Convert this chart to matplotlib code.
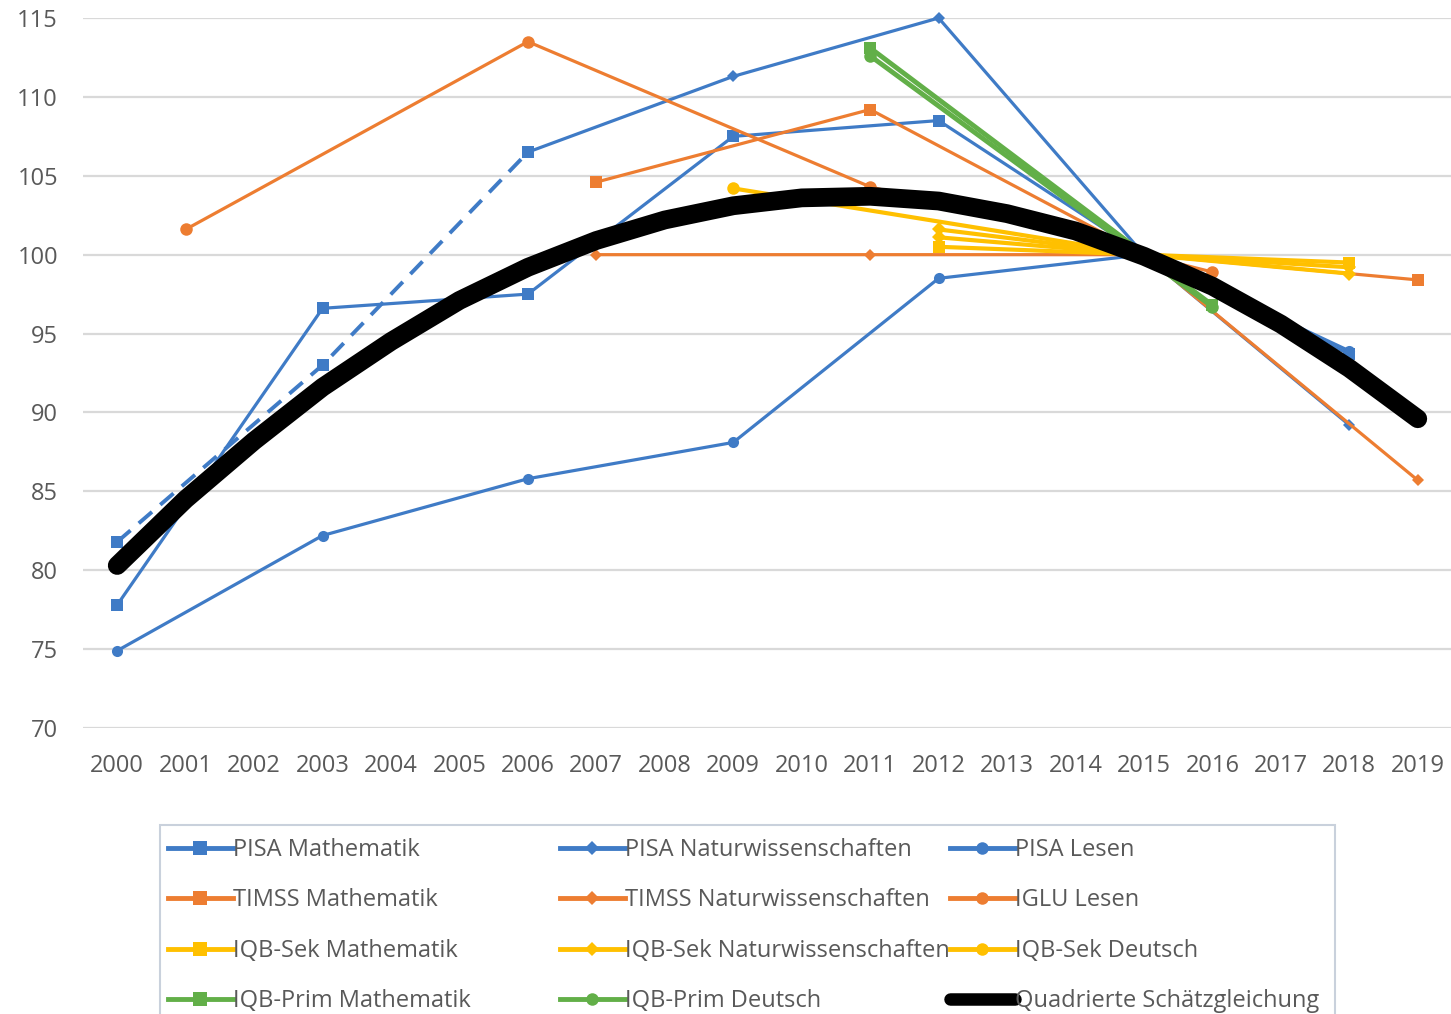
import matplotlib
matplotlib.use("Agg")
import matplotlib.pyplot as plt
from matplotlib.lines import Line2D
from matplotlib.patches import Rectangle

# ---------------- data ----------------
pisa_years = [2000, 2003, 2006, 2009, 2012, 2015, 2018]
pisa_math = [77.8, 96.6, 97.5, 107.5, 108.5, 100.0, 93.7]
pisa_lesen = [74.9, 82.2, 85.8, 88.1, 98.5, 100.0, 93.9]
pisa_nat_years = [2006, 2009, 2012, 2015, 2018]
pisa_nat = [106.5, 111.3, 115.0, 100.0, 89.2]
pisa_nat_early_years = [2000, 2003, 2006]
pisa_nat_early = [81.8, 93.0, 106.5]

timss_years = [2007, 2011, 2015, 2019]
timss_math = [104.6, 109.2, 100.0, 98.4]
timss_nat = [100.0, 100.0, 100.0, 85.7]

iglu_years = [2001, 2006, 2011, 2016]
iglu_lesen = [101.6, 113.5, 104.3, 98.9]

iqb_sek_years = [2012, 2015, 2018]
iqb_sek_math = [100.5, 100.0, 99.5]
iqb_sek_nat = [101.6, 100.0, 98.8]
iqb_sek_nat_b = [101.1, 100.0, 99.2]
iqb_sek_de_years = [2009, 2015]
iqb_sek_deutsch = [104.2, 100.0]

iqb_prim_years = [2011, 2016]
iqb_prim_math = [113.1, 96.8]
iqb_prim_deutsch = [112.6, 96.7]

fit_years = list(range(2000, 2020))
fit_values = [80.3, 84.5, 88.2, 91.6, 94.5, 97.1, 99.2, 100.9, 102.2, 103.1,
              103.6, 103.7, 103.4, 102.6, 101.5, 99.9, 98.0, 95.6, 92.8, 89.6]

x_labels = [str(y) for y in fit_years]
y_ticks = [70, 75, 80, 85, 90, 95, 100, 105, 110, 115]

# ---------------- style ----------------
BLUE = "#3F7BC6"
ORANGE = "#ED7D31"
YELLOW = "#FFC000"
GREEN = "#62AF48"
TXT = "#595959"
FONT = "Open Sans"
plt.rcParams["font.family"] = [FONT, "DejaVu Sans"]
FS = 17

W, H = 1451, 1014
fig = plt.figure(figsize=(W / 100, H / 100), dpi=100)
ax = fig.add_axes([83 / W, 1 - 728 / H, (1452 - 83) / W, (728 - 18) / H])

ax.set_xlim(1999.5, 2019.5)
ax.set_ylim(70, 115)
ax.set_yticks(y_ticks)
ax.set_xticks(fit_years)
ax.set_xticklabels(x_labels)
for s in ax.spines.values():
    s.set_visible(False)
ax.grid(axis="y", color="#D9D9D9", linewidth=1.6)
ax.set_axisbelow(True)
ax.tick_params(axis="both", length=0, labelsize=FS, labelcolor=TXT)
ax.tick_params(axis="y", pad=18)
ax.tick_params(axis="x", pad=19)

lw = 2.3

def series(x, y, color, marker, ms, label=None, ls="-", lw=lw, z=3):
    return ax.plot(x, y, color=color, marker=marker, markersize=ms, linestyle=ls,
                   linewidth=lw, label=label, clip_on=False, zorder=z,
                   markeredgewidth=0)[0]

series(pisa_years, pisa_math, BLUE, "s", 9, "PISA Mathematik")
series(pisa_nat_years, pisa_nat, BLUE, "D", 6, "PISA Naturwissenschaften")
series(pisa_nat_early_years, pisa_nat_early, BLUE, "s", 8, None, ls=(0, (4.5, 2.8)), lw=2.8)
series(pisa_years, pisa_lesen, BLUE, "o", 8, "PISA Lesen")
series(timss_years, timss_math, ORANGE, "s", 9, "TIMSS Mathematik")
series(timss_years, timss_nat, ORANGE, "D", 6, "TIMSS Naturwissenschaften")
series(iglu_years, iglu_lesen, ORANGE, "o", 9, "IGLU Lesen")
series(iqb_sek_years, iqb_sek_math, YELLOW, "s", 9, "IQB-Sek Mathematik", lw=3)
series(iqb_sek_years, iqb_sek_nat, YELLOW, "D", 7, "IQB-Sek Naturwissenschaften", lw=3)
series(iqb_sek_years, iqb_sek_nat_b, YELLOW, "D", 7, None, lw=3)
series(iqb_sek_de_years, iqb_sek_deutsch, YELLOW, "o", 9, "IQB-Sek Deutsch", lw=3)
series(iqb_prim_years, iqb_prim_math, GREEN, "s", 9, "IQB-Prim Mathematik", lw=3.5)
series(iqb_prim_years, iqb_prim_deutsch, GREEN, "o", 9, "IQB-Prim Deutsch", lw=3.5)
ax.plot(fit_years, fit_values, color="black", linewidth=13.5,
        solid_capstyle="round", solid_joinstyle="round", clip_on=False,
        zorder=5, label="Quadrierte Schätzgleichung")

# ---------------- legend ----------------
def hnd(color, marker, ms, lw=3.5):
    return Line2D([0], [0], color=color, marker=marker, markersize=ms, linewidth=lw,
                  markeredgewidth=0)

cols = [
    [(hnd(BLUE, "s", 10), "PISA Mathematik"),
     (hnd(ORANGE, "s", 10), "TIMSS Mathematik"),
     (hnd(YELLOW, "s", 10), "IQB-Sek Mathematik"),
     (hnd(GREEN, "s", 10), "IQB-Prim Mathematik")],
    [(hnd(BLUE, "D", 7), "PISA Naturwissenschaften"),
     (hnd(ORANGE, "D", 7), "TIMSS Naturwissenschaften"),
     (hnd(YELLOW, "D", 7), "IQB-Sek Naturwissenschaften"),
     (hnd(GREEN, "o", 9), "IQB-Prim Deutsch")],
    [(hnd(BLUE, "o", 9), "PISA Lesen"),
     (hnd(ORANGE, "o", 9), "IGLU Lesen"),
     (hnd(YELLOW, "o", 9), "IQB-Sek Deutsch"),
     (Line2D([0], [0], color="black", linewidth=9, solid_capstyle="round"),
      "Quadrierte Schätzgleichung")],
]
col_x = [168, 560, 950]
for cx, entries in zip(col_x, cols):
    lg = fig.legend([e[0] for e in entries], [e[1] for e in entries],
                    loc="upper left", bbox_to_anchor=(cx / W, 1 - 838 / H),
                    frameon=False, fontsize=FS, handlelength=2.75,
                    handletextpad=0.0, labelspacing=1.12, borderaxespad=0,
                    borderpad=0)
    for t in lg.get_texts():
        t.set_color(TXT)

fig.patches.append(Rectangle((160 / W, 1 - 1030 / H), (1335 - 160) / W, (1030 - 825) / H,
                             transform=fig.transFigure, fill=False,
                             edgecolor="#C9D1DC", linewidth=1.5))

fig.savefig("out.png", dpi=100, facecolor="white")
